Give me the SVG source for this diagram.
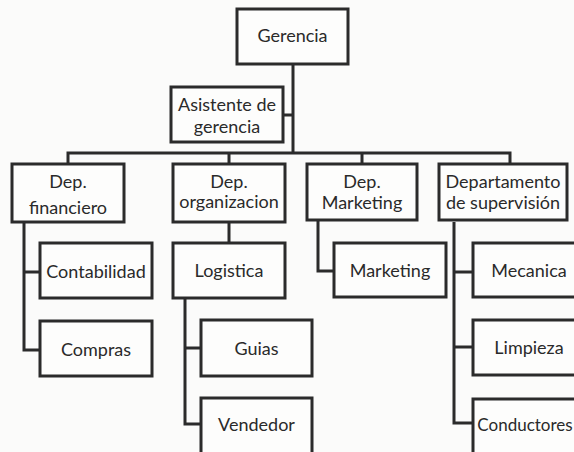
<svg xmlns="http://www.w3.org/2000/svg" width="574" height="452" viewBox="0 0 574 452">
<style>
.box{fill:#fdfdfc;stroke:#2b2b2b;stroke-width:3}
.ln{fill:none;stroke:#2b2b2b;stroke-width:3}
text{font-family:Lato,"Open Sans","Liberation Sans",sans-serif;font-size:18px;fill:#2a2a2a;text-anchor:middle}
</style>
<rect width="574" height="452" fill="#fbfbfa"/>
<g id="connectors" class="ln">
<path d="M293 64V153"/>
<path d="M283 115H293"/>
<path d="M68 164V153H510V164"/>
<path d="M229 153V164"/>
<path d="M362 153V164"/>
<path d="M24 222V350H40"/>
<path d="M24 272H40"/>
<path d="M229 222V243"/>
<path d="M185 298V424H201"/>
<path d="M185 348H201"/>
<path d="M318 220V271H334"/>
<path d="M454 222V423H473"/>
<path d="M454 272H473"/>
<path d="M454 347H473"/>
</g>
<g id="gerencia"><rect class="box" x="237" y="9" width="111" height="55"/><text x="292.5" y="42">Gerencia</text></g>
<g id="asistente"><rect class="box" x="171" y="87" width="112" height="55"/><text x="227" y="111">Asistente de</text><text x="227" y="133">gerencia</text></g>
<g id="dep-financiero"><rect class="box" x="12" y="164" width="112" height="58"/><text x="68" y="188">Dep.</text><text x="68" y="214">financiero</text></g>
<g id="dep-organizacion"><rect class="box" x="173" y="164" width="112" height="58"/><text x="229" y="188">Dep.</text><text x="229" y="208">organizacion</text></g>
<g id="dep-marketing"><rect class="box" x="307" y="164" width="110" height="56"/><text x="362" y="188">Dep.</text><text x="362" y="209">Marketing</text></g>
<g id="dep-supervision"><rect class="box" x="439" y="164" width="128" height="56"/><text x="503" y="188">Departamento</text><text x="503" y="209">de supervisión</text></g>
<g id="contabilidad"><rect class="box" x="40" y="243" width="112" height="55"/><text x="96" y="278">Contabilidad</text></g>
<g id="compras"><rect class="box" x="40" y="321" width="112" height="55"/><text x="96" y="356">Compras</text></g>
<g id="logistica"><rect class="box" x="173" y="243" width="112" height="55"/><text x="229" y="277">Logistica</text></g>
<g id="guias"><rect class="box" x="201" y="320" width="111" height="56"/><text x="256.5" y="355">Guias</text></g>
<g id="vendedor"><rect class="box" x="201" y="398" width="111" height="60"/><text x="256.5" y="431">Vendedor</text></g>
<g id="marketing"><rect class="box" x="334" y="243" width="112" height="54"/><text x="390" y="277">Marketing</text></g>
<g id="mecanica"><rect class="box" x="473" y="243" width="112" height="54"/><text x="529" y="277">Mecanica</text></g>
<g id="limpieza"><rect class="box" x="473" y="320" width="112" height="55"/><text x="529" y="354">Limpieza</text></g>
<g id="conductores"><rect class="box" x="473" y="399" width="112" height="60"/><text x="525" y="431" style="font-size:17px">Conductores</text></g>
</svg>
